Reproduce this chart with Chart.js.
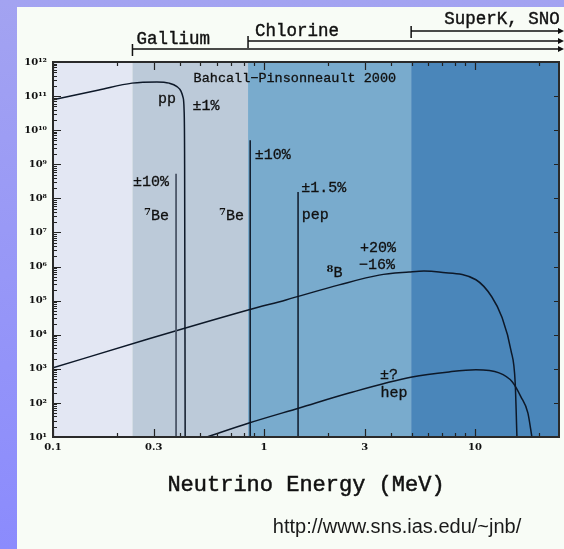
<!DOCTYPE html>
<html><head><meta charset="utf-8">
<script src="https://cdn.jsdelivr.net/npm/chart.js@4/dist/chart.umd.min.js"></script>
<style>
html,body{margin:0;padding:0;width:564px;height:549px;overflow:hidden;background:linear-gradient(#a3a3f1,#8b8bfd);}
#wrap{position:absolute;left:17px;top:7px;width:547px;height:542px;background:#f8fcf6;}
</style></head><body><div id="wrap"><canvas id="c"></canvas></div>
<script>
// ---- data ----
const xTickValues = [0.1, 0.3, 1, 3, 10];
const xTickLabels = ['0.1', '0.3', '1', '3', '10'];
const yTickExponents = [1,2,3,4,5,6,7,8,9,10,11,12];

const ppEnergy = [0.1, 0.165, 0.237, 0.311, 0.355, 0.387, 0.404, 0.413, 0.418, 0.4205, 0.423];
const ppFlux   = [7.8e10, 1.5e11, 2.4e11, 2.6e11, 2.4e11, 1.9e11, 1.4e11, 9.3e10, 4.0e10, 1e9, 10];

const be7LowEnergy = [0.383, 0.383];
const be7LowFlux   = [10, 5.3e8];
const be7HighEnergy = [0.86, 0.86];
const be7HighFlux   = [10, 5.1e9];
const pepEnergy = [1.45, 1.45];
const pepFlux   = [10, 1.55e8];

const b8Energy = [0.1, 0.285, 0.849, 1.27, 2.27, 3.51, 4.87, 5.73, 6.75, 10.1, 12.0, 13.4, 14.8, 15.5, 15.8];
const b8Flux   = [1.07e3, 7.6e3, 5.4e4, 1.05e5, 2.9e5, 5.6e5, 6.9e5, 7.4e5, 6.9e5, 4.1e5, 1.3e5, 3.3e4, 3.5e3, 390, 10];

const hepEnergy = [0.537, 0.849, 1.47, 2.53, 5.03, 7.53, 10.1, 13.0, 15.0, 16.5, 17.8, 18.6];
const hepFlux   = [10, 25.7, 71, 195, 575, 813, 933, 759, 417, 151, 51, 10];

// detector thresholds / shaded bands
const bandEdges  = [0.1, 0.238, 0.84, 4.98, 25];
const detectorNames = ['Gallium', 'Chlorine', 'SuperK, SNO'];
const detectorThresholds = [0.238, 0.84, 4.98];

// in-plot annotations
const annotTexts  = ['Bahcall\u2212Pinsonneault 2000', 'pp', '\u00b11%', '\u00b110%', '\u00b110%', '\u2077Be', '\u2077Be', '\u00b11.5%', 'pep', '+20%', '\u221216%', '\u2078B', '\u00b1?', 'hep'];
const annotEnergy = [1.40, 0.347, 0.531, 1.10, 0.291, 0.311, 0.705, 1.92, 1.75, 3.47, 3.43, 2.17, 3.91, 4.13];
const annotFlux   = [3.4e11, 8.2e10, 5.1e10, 1.9e9, 3.0e8, 3.0e7, 3.0e7, 2.0e8, 3.2e7, 3.5e6, 1.1e6, 6.5e5, 660, 195];

const xTitle = 'Neutrino Energy (MeV)';
const urlText = 'http://www.sns.ias.edu/~jnb/';

// ---- styles ----
const bandColors = ['#e3e7f3', '#bccad9', '#79abcd', '#4a86ba'];
const lineColor = '#0d1828';
const mono = '"Liberation Mono", "DejaVu Sans Mono", monospace';
const sup = {'0':'\u2070','1':'\u00b9','2':'\u00b2','3':'\u00b3','4':'\u2074','5':'\u2075','6':'\u2076','7':'\u2077','8':'\u2078','9':'\u2079'};
const supDigits = {'\u2077':'7','\u2078':'8'};

const pts = (xs, ys) => xs.map((v, i) => ({x: v, y: ys[i]}));
const ds = (data, color, w) => ({data, borderColor: color, borderWidth: w, pointRadius: 0, fill: false, cubicInterpolationMode: 'monotone'});

function heavyText(ctx, t, px, py, w) {
  ctx.fillText(t, px, py);
  ctx.lineWidth = w;
  ctx.strokeStyle = ctx.fillStyle;
  ctx.strokeText(t, px, py);
}

const refPlugin = {
  id: 'ref',
  beforeDatasetsDraw(chart) {
    const {ctx, chartArea: a, scales: {x}} = chart;
    ctx.save();
    for (let i = 0; i < bandColors.length; i++) {
      const x0 = x.getPixelForValue(bandEdges[i]);
      const x1 = x.getPixelForValue(bandEdges[i + 1]);
      ctx.fillStyle = bandColors[i];
      ctx.fillRect(x0, a.top, x1 - x0, a.bottom - a.top);
    }
    ctx.restore();
  },
  afterDatasetsDraw(chart) {
    const {ctx, chartArea: a, scales: {x, y}} = chart;
    ctx.save();
    // inward ticks
    ctx.strokeStyle = '#222';
    ctx.lineWidth = 1.2;
    ctx.beginPath();
    for (let d = 0.1; d < 30; d *= 10) {
      for (let m = 1; m <= 9; m++) {
        const v = d * m;
        if (v < 0.1 || v > 25) continue;
        const px = Math.round(x.getPixelForValue(v)) + 0.5;
        const L = xTickValues.some(t => Math.abs(t - v) < 1e-9) ? 8 : 4;
        ctx.moveTo(px, a.bottom); ctx.lineTo(px, a.bottom - L);
        ctx.moveTo(px, a.top); ctx.lineTo(px, a.top + L);
      }
    }
    yTickExponents.forEach(e => {
      for (let m = 1; m <= 9; m++) {
        const v = m * Math.pow(10, e);
        if (v > 1e12) continue;
        const py = Math.round(y.getPixelForValue(v)) + 0.5;
        const L = m === 1 ? 8 : 4;
        ctx.moveTo(a.left, py); ctx.lineTo(a.left + L, py);
        if (m === 1) { ctx.moveTo(a.right, py); ctx.lineTo(a.right - 5, py); }
      }
    });
    ctx.stroke();
    // frame
    ctx.strokeStyle = '#2a2a2a';
    ctx.lineWidth = 2;
    ctx.strokeRect(a.left, a.top, a.right - a.left, a.bottom - a.top);
    // annotations
    ctx.fillStyle = '#111';
    ctx.textBaseline = 'middle';
    annotTexts.forEach((t, i) => {
      const px = x.getPixelForValue(annotEnergy[i]);
      const py = y.getPixelForValue(annotFlux[i]);
      ctx.font = (i === 0 ? '13.5px ' : '15px ') + mono;
      const first = t.charAt(0);
      if (supDigits[first]) {
        const body = t.slice(1);
        const w = ctx.measureText(body).width;
        ctx.textAlign = 'left';
        heavyText(ctx, body, px - w / 2 + 3, py, 0.3);
        ctx.font = 'bold 10px "DejaVu Serif", serif';
        ctx.textAlign = 'right';
        ctx.fillText(supDigits[first], px - w / 2 + 3, py - 4);
      } else {
        ctx.textAlign = 'center';
        heavyText(ctx, t, px, py, 0.3);
      }
    });
    // detector brackets
    const lineY = [a.top - 13, a.top - 21, a.top - 31];
    const textY = [a.top - 23, a.top - 31, a.top - 43];
    const textDx = [4, 7, 33];
    detectorThresholds.forEach((th, i) => {
      const px = x.getPixelForValue(th);
      const ly = lineY[i];
      const endX = a.right + 3;
      ctx.strokeStyle = '#111';
      ctx.lineWidth = 1.5;
      ctx.beginPath();
      ctx.moveTo(px, ly); ctx.lineTo(endX, ly);
      ctx.moveTo(px, ly - 5); ctx.lineTo(px, ly + 7);
      ctx.stroke();
      ctx.beginPath();
      ctx.moveTo(endX + 2, ly); ctx.lineTo(endX - 4, ly - 3); ctx.lineTo(endX - 4, ly + 3); ctx.closePath();
      ctx.fillStyle = '#111'; ctx.fill();
      ctx.font = '17.5px ' + mono;
      ctx.textAlign = 'left';
      ctx.textBaseline = 'middle';
      heavyText(ctx, detectorNames[i], px + textDx[i], textY[i], 0.4);
    });
    // axis title
    ctx.textAlign = 'center';
    ctx.textBaseline = 'middle';
    ctx.font = '22px ' + mono;
    ctx.fillStyle = '#111';
    heavyText(ctx, xTitle, (a.left + a.right) / 2, a.bottom + 48, 0.5);
    ctx.font = '20px "Liberation Sans", Arial, sans-serif';
    ctx.fillStyle = '#1a1a1a';
    ctx.fillText(urlText, 380, a.bottom + 90);
    ctx.restore();
  }
};

new Chart(document.getElementById('c'), {
  type: 'line',
  data: {
    datasets: [
      ds(pts(ppEnergy, ppFlux), lineColor, 1.5),
      ds(pts(be7LowEnergy, be7LowFlux), '#4b5668', 1.8),
      ds(pts(be7HighEnergy, be7HighFlux), lineColor, 1.5),
      ds(pts(pepEnergy, pepFlux), lineColor, 1.5),
      ds(pts(b8Energy, b8Flux), lineColor, 1.5),
      ds(pts(hepEnergy, hepFlux), lineColor, 1.5)
    ]
  },
  options: {
    responsive: true,
    maintainAspectRatio: false,
    devicePixelRatio: 1,
    animation: false,
    layout: {padding: {top: 55, right: 5, left: 0, bottom: 0}},
    plugins: {legend: {display: false}, tooltip: {enabled: false}},
    scales: {
      x: {
        type: 'logarithmic', min: 0.1, max: 25,
        grid: {display: false, drawTicks: false},
        border: {display: false},
        afterBuildTicks: s => { s.ticks = xTickValues.map(v => ({value: v})); },
        afterFit: s => { s.height = 112; },
        ticks: {autoSkip: false, maxRotation: 0, padding: 4, color: '#111',
          font: {family: 'DejaVu Serif', weight: 'bold', size: 10},
          callback: (v, i) => xTickLabels[i]}
      },
      y: {
        type: 'logarithmic', min: 10, max: 1e12,
        grid: {display: false, drawTicks: false},
        border: {display: false},
        afterBuildTicks: s => { s.ticks = yTickExponents.map(e => ({value: Math.pow(10, e)})); },
        afterFit: s => { s.width = 36; },
        ticks: {autoSkip: false, padding: 6, color: '#111',
          font: {family: 'DejaVu Serif', weight: 'bold', size: 10},
          callback: (v, i) => '10' + String(yTickExponents[i]).split('').map(c => sup[c]).join('')}
      }
    }
  },
  plugins: [refPlugin]
});
</script>
</body></html>
